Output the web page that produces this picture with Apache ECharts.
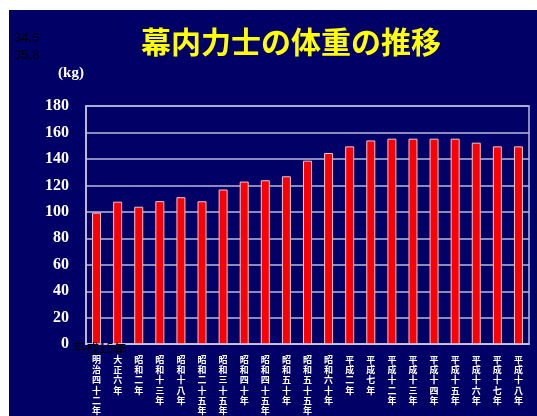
<!DOCTYPE html>
<html>
<head>
<meta charset="utf-8">
<script src="https://cdn.jsdelivr.net/npm/echarts@6/dist/echarts.min.js"></script>
<style>
html,body{margin:0;padding:0;background:#fff;}
#c{position:absolute;left:9px;top:10px;width:528px;height:406px;}
</style>
</head>
<body>
<div id="c"></div>
<script>
const categories = ['明治四十二年','大正六年','昭和二年','昭和十三年','昭和十八年','昭和二十五年','昭和三十五年','昭和四十年','昭和四十五年','昭和五十年','昭和五十五年','昭和六十年','平成二年','平成七年','平成十二年','平成十三年','平成十四年','平成十五年','平成十六年','平成十七年','平成十八年'];
const weights = [99.4,107.7,103.9,108.1,111.1,108.0,116.9,122.9,123.9,126.9,138.7,144.5,149.5,154.0,155.3,155.3,155.3,155.3,152.3,149.5,149.5];
const yTicks = [0,20,40,60,80,100,120,140,160,180];

const chart = echarts.init(document.getElementById('c'));
chart.setOption({
  backgroundColor:'#000066',
  animation:false,
  grid:{left:77,right:8,top:96,bottom:70.5,show:true,borderColor:'#b8b8d8',borderWidth:1.5,backgroundColor:'transparent'},
  graphic:[
    {type:'text',style:{text:'幕内力士の体重の推移',x:282,y:32,align:'center',verticalAlign:'middle',fill:'#ffff00',font:'bold 30px "Noto Sans CJK JP"'}},
    {type:'text',style:{text:'(kg)',x:62,y:63,align:'center',verticalAlign:'middle',fill:'#ffffff',font:'bold 15px "Liberation Serif"'}},
    {type:'text',style:{text:'34.5',x:5,y:28,align:'left',verticalAlign:'middle',fill:'#000000',font:'13px "Liberation Sans Narrow", "Liberation Sans"'}},
    {type:'text',style:{text:'35.8',x:5,y:45,align:'left',verticalAlign:'middle',fill:'#000000',font:'13px "Liberation Sans Narrow", "Liberation Sans"'}},
    {type:'text',z:100,style:{text:'平成15年',x:64,y:338,align:'left',verticalAlign:'middle',fill:'#000000',font:'13px "Noto Sans CJK JP"'}}
  ],
  xAxis:{
    type:'category',data:categories,
    axisLine:{lineStyle:{color:'#c8c8e0',width:1.5}},
    axisTick:{inside:true,length:4,lineStyle:{color:'#b8b8d8'}},
    axisLabel:{interval:0,margin:10,color:'#ffffff',fontWeight:'bold',fontSize:9,lineHeight:10.3,fontFamily:'"Noto Sans CJK JP"',verticalAlign:'top',
      formatter:v=>v.split('').join('\n')}
  },
  yAxis:{
    type:'value',min:0,max:180,interval:20,
    axisLine:{show:true,lineStyle:{color:'#c8c8e0',width:1.5}},
    axisTick:{show:false},
    axisLabel:{margin:17,color:'#ffffff',fontWeight:'bold',fontSize:16,fontFamily:'"Liberation Serif"',
      formatter:v=>yTicks.includes(v)?String(v):''},
    splitLine:{lineStyle:{color:'#b8b8d8',width:1.5}}
  },
  series:[{
    type:'bar',data:weights,barWidth:9,
    itemStyle:{color:'#ff0000',borderColor:'#e8c8d8',borderWidth:1}
  }]
});
</script>
</body>
</html>
